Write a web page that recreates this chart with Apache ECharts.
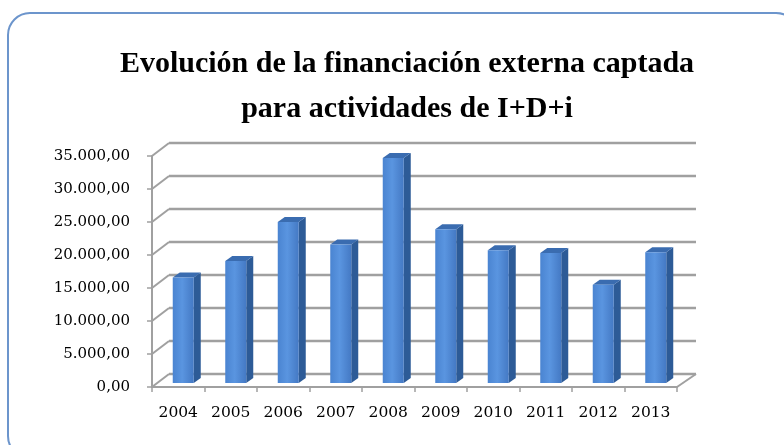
<!DOCTYPE html>
<html>
<head>
<meta charset="utf-8">
<script src="https://cdn.jsdelivr.net/npm/echarts@6/dist/echarts.min.js"></script>
<style>html,body{margin:0;padding:0;background:#fff;}#c{width:784px;height:445px;}</style>
</head>
<body>
<div id="c"></div>
<script>
const years = ['2004','2005','2006','2007','2008','2009','2010','2011','2012','2013'];
const values = [16000, 18500, 24400, 21000, 34100, 23300, 20100, 19700, 14900, 19800];
const yTicks = [0, 5000, 10000, 15000, 20000, 25000, 30000, 35000];

const chart = echarts.init(document.getElementById('c'));
const DX = 17, DY = -13;       // wall depth
const BX = 5, BY = -4;         // bar front offset
const BDX = 7, BDY = -5;       // bar depth
const gridColor = '#A0A0A0';

function fmt(v){
  return String(v).replace(/\B(?=(\d{3})+(?!\d))/g, '.') + ',00';
}

chart.setOption({
  backgroundColor: '#fff',
  animation: false,
  title: {
    text: 'Evolución de la financiación externa captada\npara actividades de I+D+i',
    left: 402, textAlign: 'center', top: 37,
    textStyle: {fontFamily: 'Liberation Serif', fontWeight: 'bold', fontSize: 30, lineHeight: 45, color: '#000'}
  },
  graphic: [{
    type: 'rect', silent: true,
    shape: {x: 8, y: 13, width: 790, height: 445, r: 22},
    style: {fill: 'none', stroke: '#6C95CC', lineWidth: 2}
  }],
  grid: {left: 152, right: 107, top: 156, bottom: 58},
  xAxis: {
    type: 'category', data: years,
    axisLine: {lineStyle: {color: gridColor, width: 2}},
    axisTick: {show: true, interval: 0, length: 5, lineStyle: {color: gridColor, width: 1.5}},
    axisLabel: {interval: 0, hideOverlap: false, margin: 18, fontFamily: 'DejaVu Serif', fontSize: 15.5, color: '#000'},
    splitLine: {show: false}
  },
  yAxis: {
    type: 'value', min: 0, max: 35000, interval: 5000,
    axisLine: {show: true, lineStyle: {color: gridColor, width: 2}},
    axisTick: {show: true, length: 5, lineStyle: {color: gridColor, width: 1.5}},
    axisLabel: {margin: 22, fontFamily: 'DejaVu Serif', fontSize: 15, color: '#000', formatter: fmt},
    splitLine: {show: false}
  },
  series: [{
    type: 'custom', z: 1, silent: true,
    data: yTicks.map(v => [0, v]),
    renderItem: function(params, api){
      const cs = params.coordSys;
      const y = api.coord([0, api.value(1)])[1];
      const x0 = cs.x, x1 = cs.x + cs.width;
      const children = [
        {type: 'line', shape: {x1: x0, y1: y, x2: x0 + DX, y2: y + DY}, style: {stroke: gridColor, lineWidth: 2}},
        {type: 'line', shape: {x1: x0 + DX, y1: y + DY, x2: x1 + DX + 2, y2: y + DY}, style: {stroke: gridColor, lineWidth: 2.5}}
      ];
      if (api.value(1) === 0) {
        children.push({type: 'line', shape: {x1: x1, y1: y, x2: x1 + DX + 2, y2: y + DY}, style: {stroke: gridColor, lineWidth: 2}});
      }
      return {type: 'group', children: children};
    }
  }, {
    type: 'custom', z: 3, silent: true,
    data: values.map((v, i) => [i, v]),
    renderItem: function(params, api){
      const i = api.value(0), v = api.value(1);
      const top = api.coord([i, v]);
      const base = api.coord([i, 0]);
      const band = api.size([1, 0])[0];
      const w = band * 0.4;
      const cx = top[0] + BX;
      const fx0 = cx - w / 2, fx1 = cx + w / 2;
      const fyt = top[1] + BY, fyb = base[1] + BY;
      return {type: 'group', children: [
        {type: 'polygon', shape: {points: [[fx1, fyt], [fx1 + BDX, fyt + BDY], [fx1 + BDX, fyb + BDY], [fx1, fyb]]},
          style: {fill: '#2D5B97'}},
        {type: 'polygon', shape: {points: [[fx0, fyt], [fx0 + BDX, fyt + BDY], [fx1 + BDX, fyt + BDY], [fx1, fyt]]},
          style: {fill: '#3A6CB0'}},
        {type: 'rect', shape: {x: fx0, y: fyt, width: w, height: fyb - fyt},
          style: {fill: new echarts.graphic.LinearGradient(0, 0, 1, 0, [
            {offset: 0, color: '#4A84D1'}, {offset: 0.45, color: '#5A95E0'}, {offset: 1, color: '#4479C4'}])}}
      ]};
    }
  }]
});
</script>
</body>
</html>
